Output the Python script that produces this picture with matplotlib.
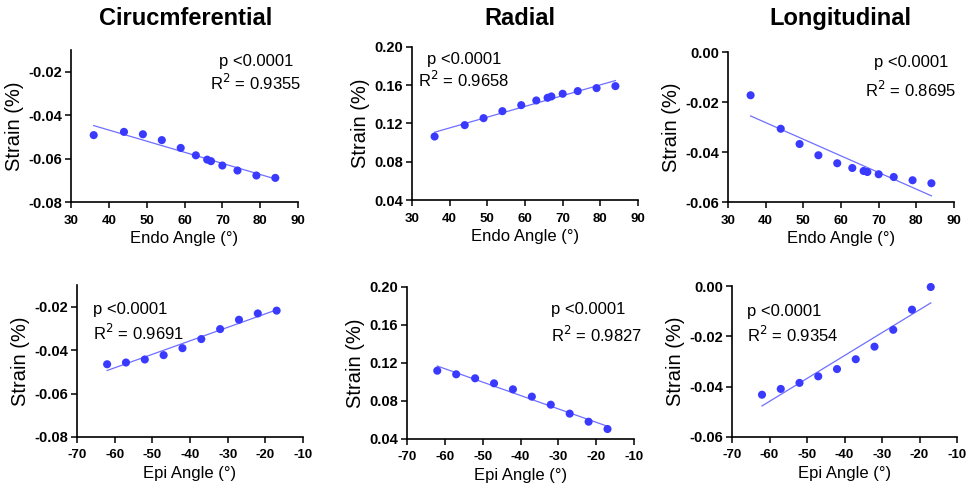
import numpy as np
import matplotlib
matplotlib.use("Agg")
import matplotlib.pyplot as plt

plt.rcParams['font.family'] = ['Liberation Sans', 'DejaVu Sans']
plt.rcParams['axes.unicode_minus'] = False

# ---- data ----
endo_angle = [36, 44, 49, 54, 59, 63, 66, 67, 70, 74, 79, 84]
epi_angle = [-62, -57, -52, -47, -42, -37, -32, -27, -22, -17]

endo_circ = [-0.0492, -0.0477, -0.0488, -0.0515, -0.0551, -0.0585, -0.0605, -0.0612, -0.0632, -0.0655, -0.0678, -0.0689]
endo_rad = [0.1064, 0.1183, 0.1256, 0.1329, 0.1392, 0.1441, 0.1469, 0.1483, 0.1511, 0.1539, 0.1570, 0.1591]
endo_long = [-0.0173, -0.0307, -0.0368, -0.0413, -0.0445, -0.0464, -0.0476, -0.0480, -0.0489, -0.0500, -0.0513, -0.0525]

epi_circ = [-0.0465, -0.0457, -0.0443, -0.0423, -0.0391, -0.0349, -0.0303, -0.0260, -0.0231, -0.0218]
epi_rad = [0.1119, 0.1081, 0.1039, 0.0986, 0.0923, 0.0846, 0.0761, 0.0667, 0.0582, 0.0505]
epi_long = [-0.0432, -0.0409, -0.0385, -0.0359, -0.0330, -0.0291, -0.0241, -0.0174, -0.0094, -0.0004]

titles = ["Cirucmferential", "Radial", "Longitudinal"]
r2_endo = ["0.9355", "0.9658", "0.8695"]
r2_epi = ["0.9691", "0.9827", "0.9354"]

endo_xticks = [30, 40, 50, 60, 70, 80, 90]
epi_xticks = [-70, -60, -50, -40, -30, -20, -10]
circ_yticks = [-0.08, -0.06, -0.04, -0.02]
rad_yticks = [0.04, 0.08, 0.12, 0.16, 0.20]
long_yticks = [-0.06, -0.04, -0.02, 0.00]

# ---- layout (pixels) ----
W, H = 974, 493
fig = plt.figure(figsize=(W / 100, H / 100), dpi=100)

def add_ax(x0, x1, y0, y1):
    return fig.add_axes([x0 / W, 1 - y1 / H, (x1 - x0) / W, (y1 - y0) / H])

pt_col = '#3a3aff'
ln_col = '#6f6fff'

panels = [
    ((71, 298, 50, 202), endo_angle, endo_circ, endo_xticks, circ_yticks, (-0.08, -0.01), "Endo Angle (°)", r2_endo[0], (0.815, 0.923, 0.783), 'center'),
    ((412, 638, 47, 200), endo_angle, endo_rad, endo_xticks, rad_yticks, (0.04, 0.20), "Endo Angle (°)", r2_endo[1], (0.230, 0.92, 0.784), 'center'),
    ((728, 954, 52, 202), endo_angle, endo_long, endo_xticks, long_yticks, (-0.06, 0.0), "Endo Angle (°)", r2_endo[2], (0.81, 0.933, 0.745), 'center'),
    ((77, 303, 285, 437), epi_angle, epi_circ, epi_xticks, circ_yticks, (-0.08, -0.01), "Epi Angle (°)", r2_epi[0], (0.069, 0.836, 0.682), 'left'),
    ((407, 634, 287, 439), epi_angle, epi_rad, epi_xticks, rad_yticks, (0.04, 0.20), "Epi Angle (°)", r2_epi[1], (0.633, 0.853, 0.684), 'left'),
    ((732, 957, 286, 437), epi_angle, epi_long, epi_xticks, long_yticks, (-0.06, 0.0), "Epi Angle (°)", r2_epi[2], (0.065, 0.834, 0.674), 'left'),
]

for i, (box, xs, ys, xt, yt, yl, xlab, r2, tpos, ha) in enumerate(panels):
    ax = add_ax(*box)
    xs = np.array(xs, float)
    ys = np.array(ys, float)
    m, b = np.polyfit(xs, ys, 1)
    xf = np.array([xs.min(), xs.max()])
    ax.plot(xf, m * xf + b, color=ln_col, lw=0.9, zorder=2)
    ax.scatter(xs, ys, s=34, color=pt_col, edgecolors='none', zorder=3, clip_on=False)
    ax.set_xlim(xt[0], xt[-1])
    ax.set_ylim(*yl)
    ax.set_xticks(xt)
    ax.set_yticks(yt)
    ax.set_yticklabels([('%.2f' % v).replace('-0.00', '0.00') for v in yt])
    for s in ['top', 'right']:
        ax.spines[s].set_visible(False)
    for s in ['left', 'bottom']:
        ax.spines[s].set_linewidth(1.2)
    ax.tick_params(direction='out', length=4, width=1.1)
    ax.tick_params(axis='x', labelsize=9.5, pad=5)
    ax.tick_params(axis='y', labelsize=10.5, pad=2.5)
    for lab in ax.get_xticklabels() + ax.get_yticklabels():
        lab.set_fontweight('bold')
    ax.set_xlabel(xlab, fontsize=12, labelpad=3.5)
    ax.set_ylabel("Strain (%)", fontsize=14.5, labelpad=3)
    tx, ty1, ty2 = tpos
    ax.text(tx, ty1, "p <0.0001", transform=ax.transAxes, fontsize=12, ha=ha, va='center')
    ax.text(tx, ty2, r"R$^2$ = " + r2, transform=ax.transAxes, fontsize=12, ha=ha, va='center')

title_x = [186, 520, 840]
for t, xc in zip(titles, title_x):
    fig.text(xc / W, 1 - 25 / H, t, fontsize=17, fontweight='bold', ha='center', va='baseline')

fig.savefig("out.png", dpi=100)
